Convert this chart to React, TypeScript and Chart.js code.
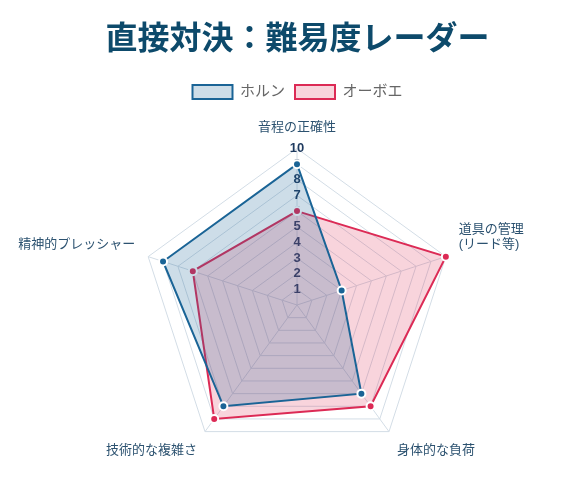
import React, { useEffect, useRef } from "react";
import { Chart, registerables } from "chart.js";

Chart.register(...registerables);

const categories: (string | string[])[] = [
  "音程の正確性",
  ["道具の管理", "(リード等)"],
  "身体的な負荷",
  "技術的な複雑さ",
  "精神的プレッシャー",
];
const hornValues = [9, 3, 7, 8, 9];
const oboeValues = [6, 10, 8, 9, 7];
const seriesNames = ["ホルン", "オーボエ"];
const titleText = "直接対決：難易度レーダー";

const FONT = "'Helvetica Neue', Helvetica, Arial, 'Noto Sans CJK JP', sans-serif";

export default function App() {
  const ref = useRef<HTMLCanvasElement | null>(null);
  useEffect(() => {
    if (!ref.current) return;
    const chart = new Chart(ref.current, {
      type: "radar",
      data: {
        labels: categories,
        datasets: [
          {
            label: seriesNames[0],
            data: hornValues,
            borderColor: "#1a6496",
            backgroundColor: "rgba(26,100,150,0.22)",
            borderWidth: 2,
            pointBackgroundColor: "#1a6496",
            pointBorderColor: "#ffffff",
            pointBorderWidth: 2,
            pointRadius: 4,
          },
          {
            label: seriesNames[1],
            data: oboeValues,
            borderColor: "#dc2a55",
            backgroundColor: "rgba(220,40,80,0.2)",
            borderWidth: 2,
            pointBackgroundColor: "#dc2a55",
            pointBorderColor: "#ffffff",
            pointBorderWidth: 2,
            pointRadius: 4,
          },
        ],
      },
      options: {
        animation: false,
        responsive: true,
        maintainAspectRatio: false,
        layout: { padding: { left: 0, right: 0, top: 1, bottom: 0 } },
        plugins: {
          title: {
            display: true,
            text: titleText,
            color: "#0d4a6b",
            font: { family: FONT, size: 32, weight: "bold" },
            padding: { top: 12, bottom: 15 },
          },
          legend: {
            labels: {
              color: "#666666",
              font: { family: FONT, size: 15 },
              boxWidth: 40,
              boxHeight: 14,
            },
          },
          tooltip: { enabled: false },
        },
        scales: {
          r: {
            min: 0,
            max: 10,
            ticks: {
              stepSize: 1,
              showLabelBackdrop: false,
              color: "#1e3a5f",
              font: { family: FONT, size: 13, weight: "bold" },
            },
            grid: { color: "#d3dde6" },
            angleLines: { color: "#d3dde6" },
            pointLabels: {
              color: "#2c5270",
              font: { family: FONT, size: 13 },
            },
          },
        },
      },
    });
    return () => chart.destroy();
  }, []);
  return (
    <div style={{ width: "565px", height: "473px", overflow: "hidden" }}>
      <div style={{ width: "599px", height: "473px", marginLeft: "-10px", position: "relative" }}>
        <canvas ref={ref} />
      </div>
    </div>
  );
}
